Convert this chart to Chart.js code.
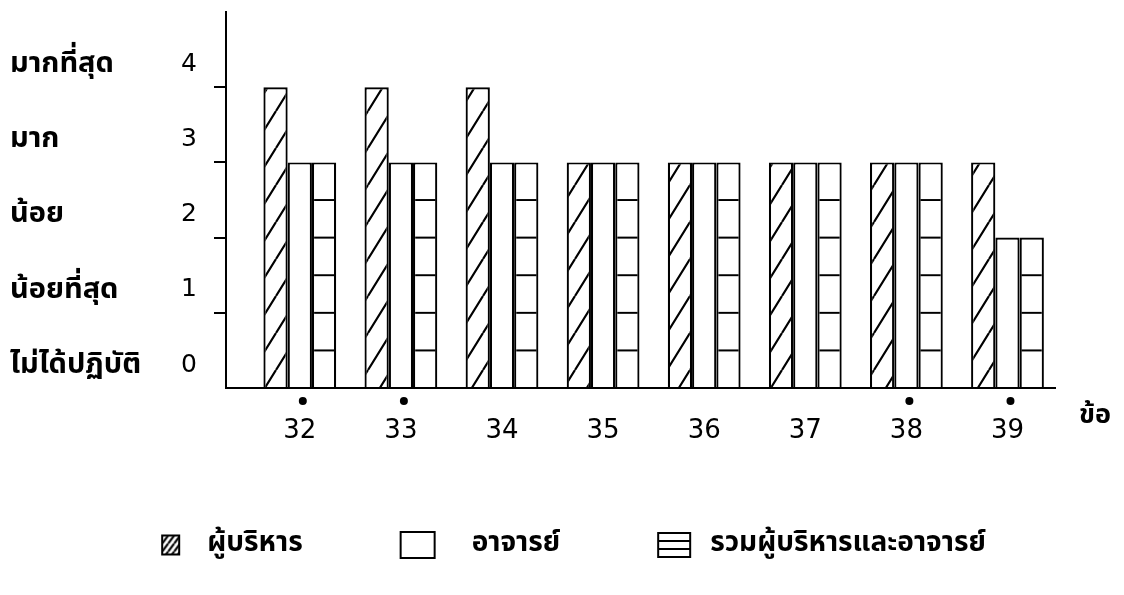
<!DOCTYPE html>
<html>
<head>
<meta charset="utf-8">
<script src="https://cdn.jsdelivr.net/npm/chart.js@4.4.1/dist/chart.umd.min.js"></script>
<style>
  html, body { margin: 0; background: #fff; }
  #wrap { width: 1124px; height: 595px; }
</style>
</head>
<body>
<div id="wrap"><canvas id="barChart"></canvas></div>
<script>
// ข้อมูล
const items = [32, 33, 34, 35, 36, 37, 38, 39];
const executives = [4, 4, 4, 3, 3, 3, 3, 3];
const teachers = [3, 3, 3, 3, 3, 3, 3, 2];
const combined = [3, 3, 3, 3, 3, 3, 3, 2];
const starredItems = [32, 33, 38, 39];
const levelTicks = [0, 1, 2, 3, 4];
const levelNames = ["ไม่ได้ปฏิบัติ", "น้อยที่สุด", "น้อย", "มาก", "มากที่สุด"];
const seriesNames = ["ผู้บริหาร", "อาจารย์", "รวมผู้บริหารและอาจารย์"];
const itemAxisName = "ข้อ";

const thaiFont = "'Noto Sans Thai', 'Noto Sans Thai UI', 'Noto Sans', sans-serif";
const digitFont = "'DejaVu Sans', sans-serif";

// Patterns
function tile(w, h, draw) {
  const c = document.createElement("canvas");
  c.width = w;
  c.height = h;
  const g = c.getContext("2d");
  g.fillStyle = "#fff";
  g.fillRect(0, 0, w, h);
  g.strokeStyle = "#000";
  g.fillStyle = "#000";
  draw(g, w, h);
  return document.createElement("canvas").getContext("2d").createPattern(c, "repeat");
}

function diagonal(g, w, h) {
  g.lineWidth = 2.2;
  g.beginPath();
  for (const dx of [-w, 0, w]) {
    g.moveTo(dx, h);
    g.lineTo(dx + w, 0);
  }
  g.stroke();
}

const hatch = tile(23, 37, diagonal);
const rows = tile(4, 38, (g, w, h) => {
  g.fillRect(0, 0, w, 1);
  g.fillRect(0, h - 1, w, 1);
});
const legendHatch = tile(6, 8, diagonal);

const extras = {
  id: "extras",
  beforeDatasetsDraw(chart) {
    const y = chart.scales.y;
    const unit = y.getPixelForValue(0) - y.getPixelForValue(1);
    rows.setTransform(new DOMMatrix().translate(0, y.getPixelForValue(0)).scale(1, unit / 2 / 38));
  },
  afterDraw(chart) {
    const { ctx, scales: { x, y } } = chart;
    ctx.save();
    ctx.fillStyle = "#000";
    ctx.strokeStyle = "#000";

    // level names on the left
    ctx.font = "bold 29px " + thaiFont;
    ctx.textAlign = "left";
    ctx.textBaseline = "middle";
    levelTicks.forEach((v, i) => ctx.fillText(levelNames[i], 10, y.getPixelForValue(v) - 21));

    // significance dots
    starredItems.forEach(v => {
      ctx.beginPath();
      ctx.arc(x.getPixelForValue(v) + 3, x.top + 13, 4, 0, Math.PI * 2);
      ctx.fill();
    });

    // axis name
    ctx.font = "bold 27px " + thaiFont;
    ctx.textAlign = "center";
    ctx.fillText(itemAxisName, x.right + 40, x.top + 30);

    // legend
    const boxes = [{ w: 17, h: 19 }, { w: 34, h: 26 }, { w: 32, h: 24 }];
    const textGaps = [28, 37, 20];
    const itemGap = 98;
    ctx.font = "bold 28px " + thaiFont;
    const widths = seriesNames.map((s, i) => boxes[i].w + textGaps[i] + ctx.measureText(s).width);
    const total = widths.reduce((a, b) => a + b, 0) + itemGap * (widths.length - 1);
    let cx = chart.width / 2 + 12 - total / 2;
    const cy = chart.height - 50;
    ctx.lineWidth = 2;
    ctx.textAlign = "left";
    seriesNames.forEach((s, i) => {
      const b = boxes[i];
      const top = cy - b.h / 2;
      ctx.fillStyle = "#fff";
      ctx.fillRect(cx, top, b.w, b.h);
      if (i === 0) {
        legendHatch.setTransform(new DOMMatrix().translate(cx, top));
        ctx.fillStyle = legendHatch;
        ctx.fillRect(cx, top, b.w, b.h);
      }
      if (i === 2) {
        ctx.beginPath();
        for (let k = 1; k < 3; k++) {
          ctx.moveTo(cx, top + (b.h * k) / 3);
          ctx.lineTo(cx + b.w, top + (b.h * k) / 3);
        }
        ctx.stroke();
      }
      ctx.strokeRect(cx, top, b.w, b.h);
      ctx.fillStyle = "#000";
      ctx.fillText(s, cx + b.w + textGaps[i], cy);
      cx += widths[i] + itemGap;
    });
    ctx.restore();
  }
};

const toPoints = vals => items.map((x, i) => ({ x, y: vals[i] }));

new Chart(document.getElementById("barChart"), {
  type: "bar",
  data: {
    datasets: [
      { label: seriesNames[0], data: toPoints(executives), backgroundColor: hatch },
      { label: seriesNames[1], data: toPoints(teachers), backgroundColor: "#fff" },
      { label: seriesNames[2], data: toPoints(combined), backgroundColor: rows },
    ],
  },
  options: {
    responsive: true,
    maintainAspectRatio: false,
    animation: false,
    layout: { padding: { top: 12, right: 69, left: 0, bottom: 147 } },
    datasets: {
      bar: { categoryPercentage: 0.72, barPercentage: 1, borderColor: "#000", borderWidth: 2.2 },
    },
    plugins: {
      legend: { display: false },
      tooltip: { enabled: false },
    },
    scales: {
      x: {
        type: "linear",
        offset: false,
        min: 31.27,
        max: 39.47,
        afterBuildTicks: s => { s.ticks = items.map(v => ({ value: v })); },
        afterFit: s => { s.height = 60; s.paddingLeft = 0; s.paddingRight = 0; },
        grid: { display: false },
        border: { color: "#000", width: 2 },
        ticks: { color: "#000", padding: 20, font: { family: digitFont, size: 26 } },
      },
      y: {
        min: 0,
        max: 5,
        afterBuildTicks: s => { s.ticks = levelTicks.map(v => ({ value: v })); },
        afterFit: s => { s.width = 226; s.paddingTop = 0; s.paddingBottom = 0; },
        grid: {
          drawOnChartArea: false,
          tickLength: 12,
          lineWidth: 2,
          color: c => (c.tick && c.tick.value === 0 ? "rgba(0,0,0,0)" : "#000"),
        },
        border: { color: "#000", width: 2 },
        ticks: { color: "#000", padding: 17, labelOffset: -23, font: { family: digitFont, size: 25 } },
      },
    },
  },
  plugins: [extras],
});
</script>
</body>
</html>
